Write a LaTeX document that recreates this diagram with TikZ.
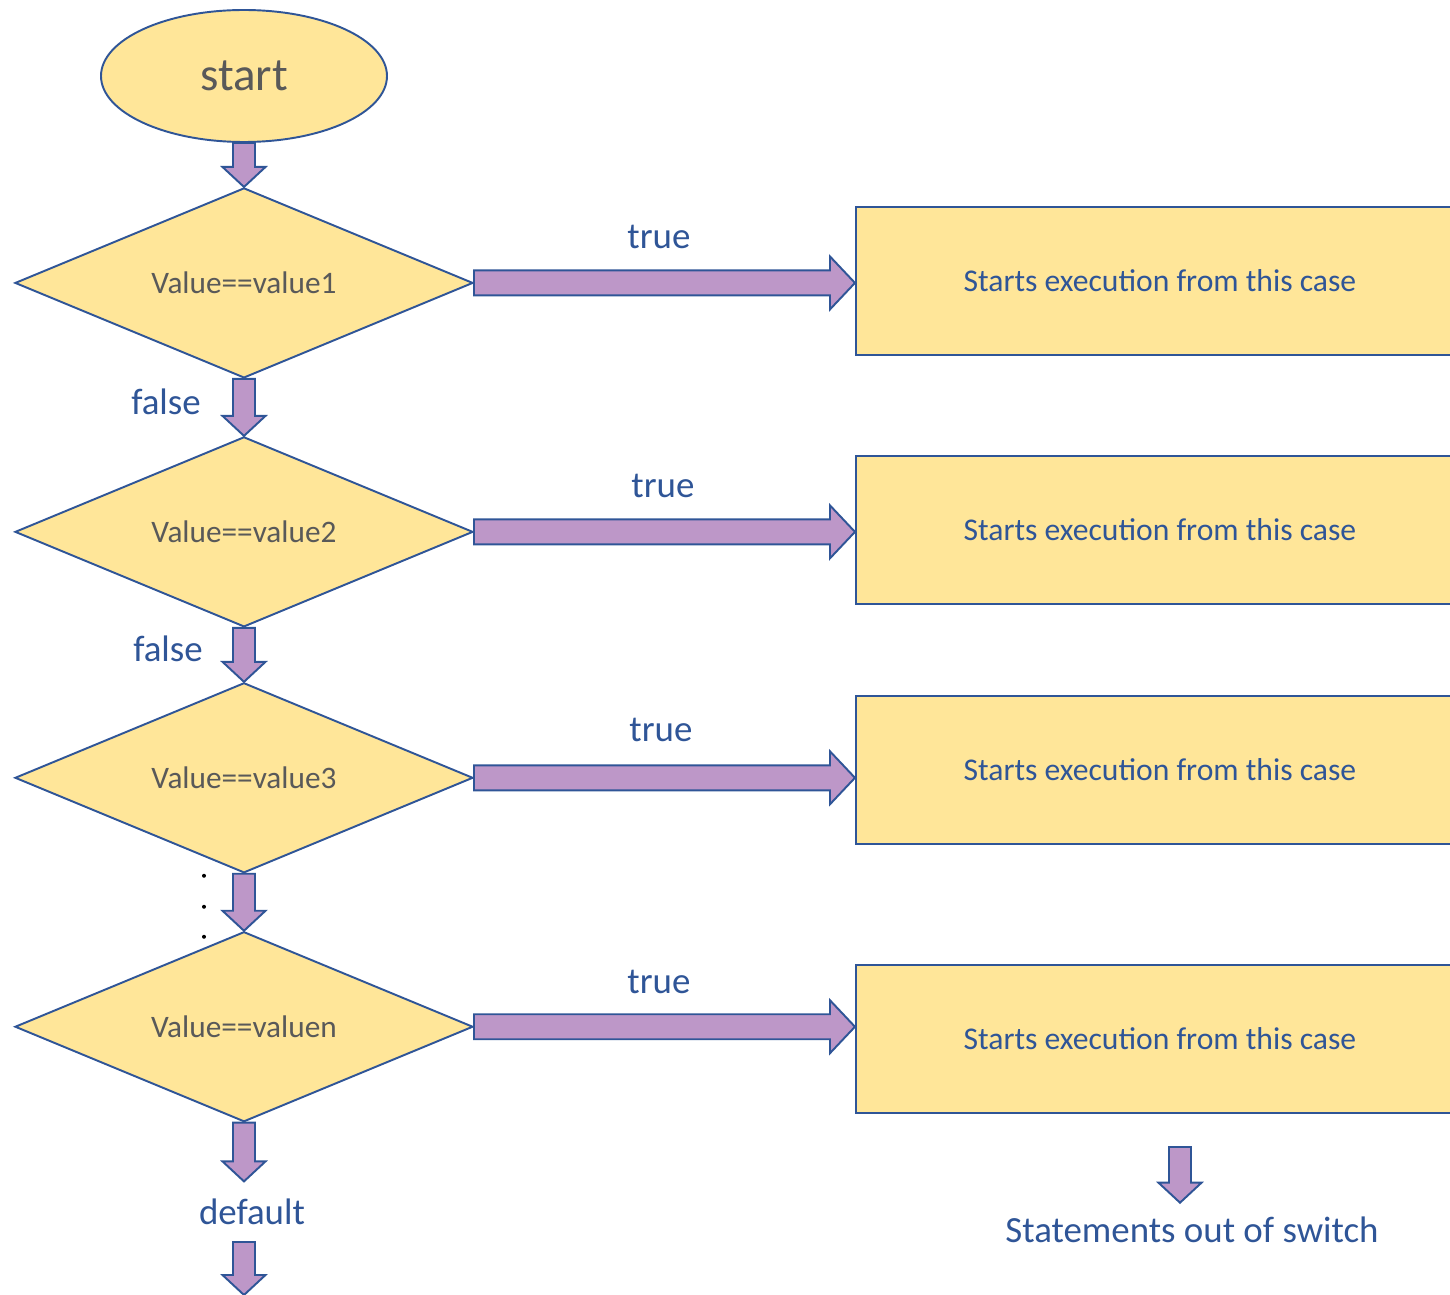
\documentclass[tikz,border=0pt]{standalone}
\usepackage{fontspec}
\setmainfont{Carlito}
\usepackage{xcolor}
\usetikzlibrary{calc, positioning, shapes.geometric}
\definecolor{boxfill}{HTML}{FFE699}
\definecolor{edge}{HTML}{2F5597}
\definecolor{arrfill}{HTML}{BD97C8}
\definecolor{grytext}{HTML}{595959}
\tikzset{
    % block arrow pointing down, start x is kept
    varrow/.style={
        draw=edge, fill=arrfill, line width=1.1pt, line join=miter,
        to path={let \p1=(\tikztostart), \p2=(\tikztotarget) in
            (\x1-0.22cm,\y1) -- (\x1-0.22cm,\y2+0.4cm) -- (\x1-0.43cm,\y2+0.4cm) -- (\x1,\y2)
            -- (\x1+0.43cm,\y2+0.4cm) -- (\x1+0.22cm,\y2+0.4cm) -- (\x1+0.22cm,\y1) -- cycle}
    },
    % block arrow pointing right, start y is kept
    harrow/.style={
        draw=edge, fill=arrfill, line width=1.1pt, line join=miter,
        to path={let \p1=(\tikztostart), \p2=(\tikztotarget) in
            (\x1,\y1+0.25cm) -- (\x2-0.5cm,\y1+0.25cm) -- (\x2-0.5cm,\y1+0.53cm) -- (\x2,\y1)
            -- (\x2-0.5cm,\y1-0.53cm) -- (\x2-0.5cm,\y1-0.25cm) -- (\x1,\y1-0.25cm) -- cycle}
    },
    lbl/.style={text=edge, font=\fontsize{21}{24}\selectfont, inner sep=0pt}
}

\begin{document}
\begin{tikzpicture}[
        % Styles
        term/.style    ={ellipse, draw=edge, line width=1.1pt, fill=boxfill, minimum width=5.72cm, minimum height=2.64cm, text=grytext, font=\fontsize{26.7}{30}\selectfont},
        test/.style    ={diamond, aspect=2.41, draw=edge, line width=1.1pt, fill=boxfill, minimum width=9.16cm, minimum height=3.8cm, inner sep=0pt, text=grytext, font=\fontsize{17.8}{20}\selectfont},
        casebox/.style ={rectangle, draw=edge, line width=1.1pt, fill=boxfill, minimum width=12.16cm, minimum height=2.96cm, text=edge, font=\fontsize{18}{21}\selectfont}
    ]
    \useasboundingbox (0,0) rectangle (29,-25.9);

    % --- TESTS (Left Side) ---

    % Start
    \node[term] (start) at (4.88,-1.52) {start};

    % Case tests
    \node[test, below=0.88cm of start] (D1) {Value==value1};
    \draw[varrow] (start.south) to (D1.north);

    \node[test, below=1.14cm of D1] (D2) {Value==value2};
    \draw[varrow] (D1.south) to (D2.north);
    \node[lbl] (f1) at ($(D1.south)+(-1.56,-0.46)$) {false};

    \node[test, below=1.08cm of D2] (D3) {Value==value3};
    \draw[varrow] (D2.south) to (D3.north);
    \node[lbl] (f2) at ($(D2.south)+(-1.52,-0.42)$) {false};

    \node[test, below=1.14cm of D3] (Dn) {Value==valuen};
    \draw[varrow] (D3.south) to (Dn.north);

    % Dots
    \foreach \dy in {-0.04,-0.66,-1.26}
        \fill ($(D3.south)+(-0.8,\dy)$) circle (0.04);

    % Default
    \node[lbl, inner ysep=0.34cm] (dflt) at ($(Dn.south)+(0.16,-1.78)$) {default};
    \draw[varrow] (Dn.south) to (dflt.north);
    \coordinate (bottom) at (4.86,-25.9);
    \draw[varrow] (Dn.south |- dflt.south) to (bottom);

    % --- CASES (Right Side) ---

    \node[casebox, right=7.62cm of D1, yshift=0.04cm] (C1) {Starts execution from this case};
    \node[casebox, right=7.62cm of D2, yshift=0.04cm] (C2) {Starts execution from this case};
    \node[casebox, right=7.62cm of D3, yshift=0.16cm] (C3) {Starts execution from this case};
    \node[casebox, right=7.62cm of Dn, yshift=-0.24cm] (Cn) {Starts execution from this case};

    \draw[harrow] (D1.east) to (C1.west);
    \draw[harrow] (D2.east) to (C2.west);
    \draw[harrow] (D3.east) to (C3.west);
    \draw[harrow] (Dn.east) to (Cn.west);

    % Labels
    \node[lbl] (t1) at ($(D1.east)+(3.7,0.92)$) {true};
    \node[lbl] (t2) at ($(D2.east)+(3.78,0.92)$) {true};
    \node[lbl] (t3) at ($(D3.east)+(3.74,0.96)$) {true};
    \node[lbl] (tn) at ($(Dn.east)+(3.7,0.9)$) {true};

    % Out of switch
    \coordinate (outstart) at (23.6,-22.94);
    \node[lbl, inner ysep=0.28cm] (outtxt) at (23.84,-24.6) {Statements out of switch};
    \draw[varrow] (outstart) to (outtxt.north);

\end{tikzpicture}
\end{document}
